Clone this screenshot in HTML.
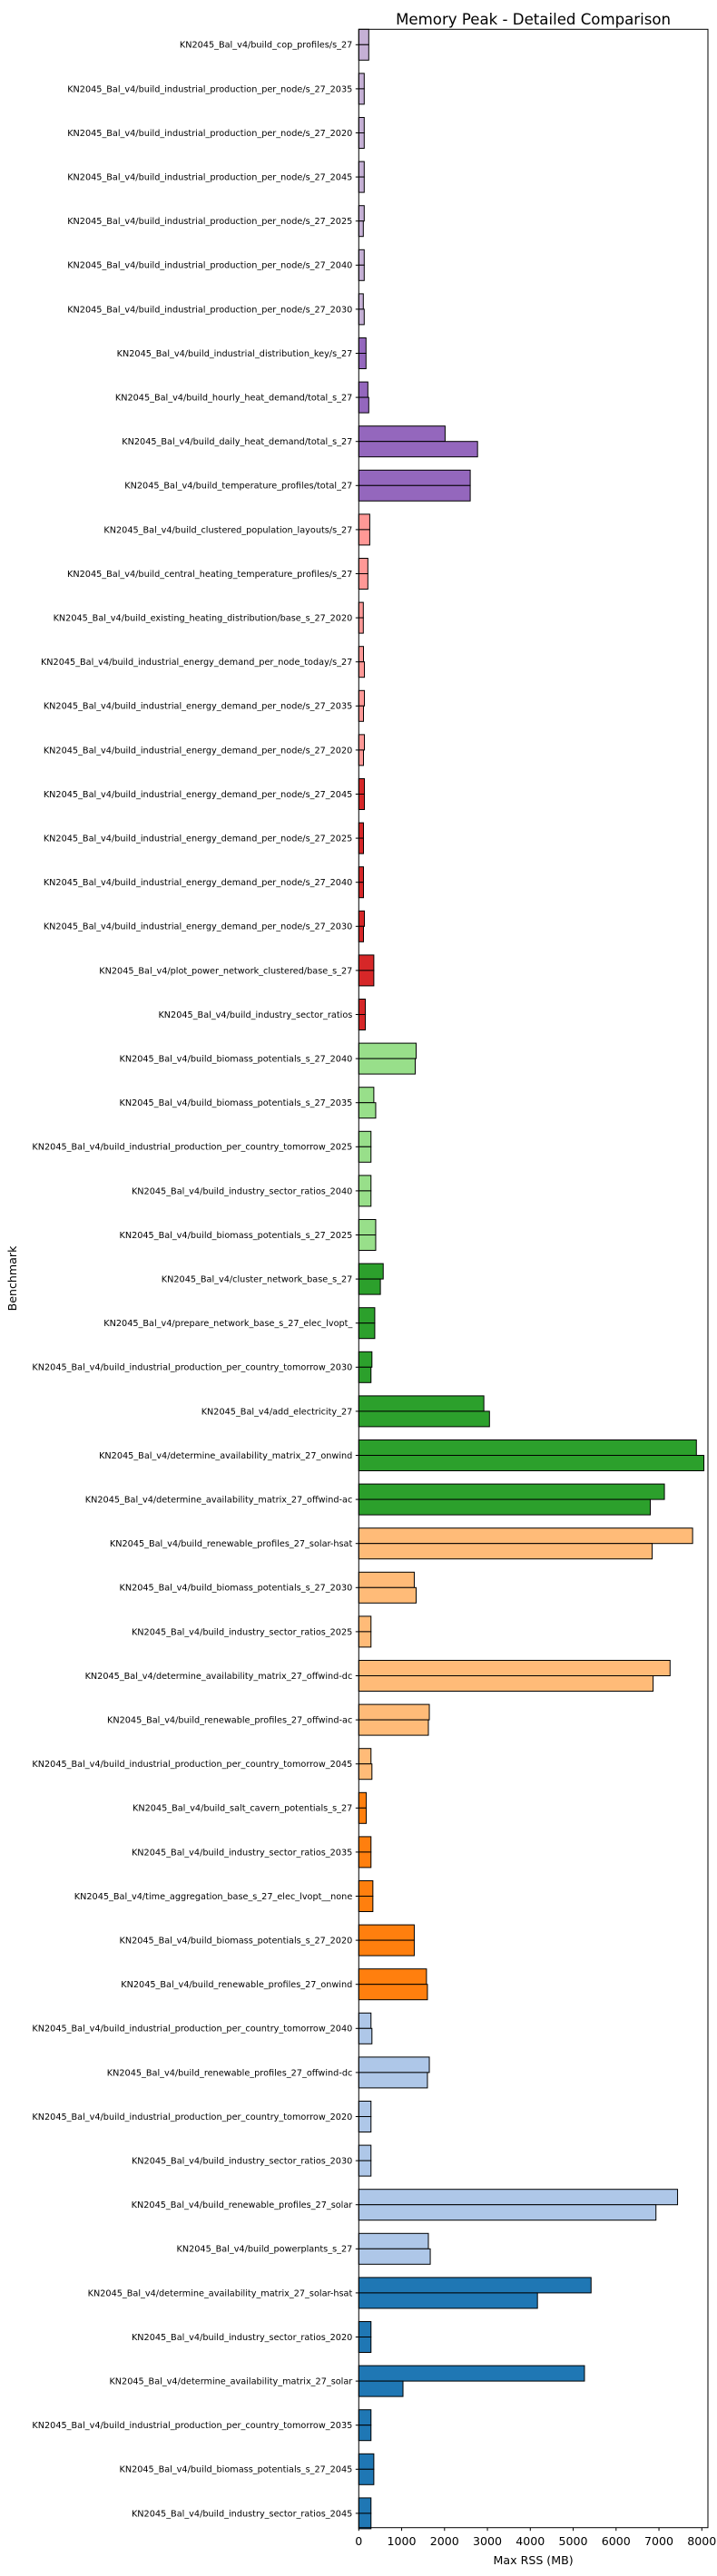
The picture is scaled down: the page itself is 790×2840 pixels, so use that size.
<!DOCTYPE html>
<html><head><meta charset="utf-8">
<style>
html,body{margin:0;padding:0;background:#fff;}
svg{display:block;font-family:"DejaVu Sans","Liberation Sans",sans-serif;}
</style></head>
<body>
<svg id="chart" width="790" height="2840" viewBox="0 0 790 2840" xmlns="http://www.w3.org/2000/svg">
<rect x="0" y="0" width="790" height="2840" fill="#fff"/>
<text x="587.6" y="27" font-size="16.6" text-anchor="middle" fill="#000">Memory Peak - Detailed Comparison</text>
<g id="bars"></g>
<g id="yticks"></g>
<g id="xticks"></g>
<rect x="395.3" y="32.3" width="384.7" height="2754.4" fill="none" stroke="#000" stroke-width="1"/>
<text x="587.6" y="2827" font-size="12.6" text-anchor="middle" fill="#000">Max RSS (MB)</text>
<text transform="translate(18,1409.5) rotate(-90)" font-size="12.6" text-anchor="middle" fill="#000">Benchmark</text>
</svg>
<script>
const categories = [
"KN2045_Bal_v4/build_cop_profiles/s_27",
"KN2045_Bal_v4/build_industrial_production_per_node/s_27_2035",
"KN2045_Bal_v4/build_industrial_production_per_node/s_27_2020",
"KN2045_Bal_v4/build_industrial_production_per_node/s_27_2045",
"KN2045_Bal_v4/build_industrial_production_per_node/s_27_2025",
"KN2045_Bal_v4/build_industrial_production_per_node/s_27_2040",
"KN2045_Bal_v4/build_industrial_production_per_node/s_27_2030",
"KN2045_Bal_v4/build_industrial_distribution_key/s_27",
"KN2045_Bal_v4/build_hourly_heat_demand/total_s_27",
"KN2045_Bal_v4/build_daily_heat_demand/total_s_27",
"KN2045_Bal_v4/build_temperature_profiles/total_27",
"KN2045_Bal_v4/build_clustered_population_layouts/s_27",
"KN2045_Bal_v4/build_central_heating_temperature_profiles/s_27",
"KN2045_Bal_v4/build_existing_heating_distribution/base_s_27_2020",
"KN2045_Bal_v4/build_industrial_energy_demand_per_node_today/s_27",
"KN2045_Bal_v4/build_industrial_energy_demand_per_node/s_27_2035",
"KN2045_Bal_v4/build_industrial_energy_demand_per_node/s_27_2020",
"KN2045_Bal_v4/build_industrial_energy_demand_per_node/s_27_2045",
"KN2045_Bal_v4/build_industrial_energy_demand_per_node/s_27_2025",
"KN2045_Bal_v4/build_industrial_energy_demand_per_node/s_27_2040",
"KN2045_Bal_v4/build_industrial_energy_demand_per_node/s_27_2030",
"KN2045_Bal_v4/plot_power_network_clustered/base_s_27",
"KN2045_Bal_v4/build_industry_sector_ratios",
"KN2045_Bal_v4/build_biomass_potentials_s_27_2040",
"KN2045_Bal_v4/build_biomass_potentials_s_27_2035",
"KN2045_Bal_v4/build_industrial_production_per_country_tomorrow_2025",
"KN2045_Bal_v4/build_industry_sector_ratios_2040",
"KN2045_Bal_v4/build_biomass_potentials_s_27_2025",
"KN2045_Bal_v4/cluster_network_base_s_27",
"KN2045_Bal_v4/prepare_network_base_s_27_elec_lvopt_",
"KN2045_Bal_v4/build_industrial_production_per_country_tomorrow_2030",
"KN2045_Bal_v4/add_electricity_27",
"KN2045_Bal_v4/determine_availability_matrix_27_onwind",
"KN2045_Bal_v4/determine_availability_matrix_27_offwind-ac",
"KN2045_Bal_v4/build_renewable_profiles_27_solar-hsat",
"KN2045_Bal_v4/build_biomass_potentials_s_27_2030",
"KN2045_Bal_v4/build_industry_sector_ratios_2025",
"KN2045_Bal_v4/determine_availability_matrix_27_offwind-dc",
"KN2045_Bal_v4/build_renewable_profiles_27_offwind-ac",
"KN2045_Bal_v4/build_industrial_production_per_country_tomorrow_2045",
"KN2045_Bal_v4/build_salt_cavern_potentials_s_27",
"KN2045_Bal_v4/build_industry_sector_ratios_2035",
"KN2045_Bal_v4/time_aggregation_base_s_27_elec_lvopt__none",
"KN2045_Bal_v4/build_biomass_potentials_s_27_2020",
"KN2045_Bal_v4/build_renewable_profiles_27_onwind",
"KN2045_Bal_v4/build_industrial_production_per_country_tomorrow_2040",
"KN2045_Bal_v4/build_renewable_profiles_27_offwind-dc",
"KN2045_Bal_v4/build_industrial_production_per_country_tomorrow_2020",
"KN2045_Bal_v4/build_industry_sector_ratios_2030",
"KN2045_Bal_v4/build_renewable_profiles_27_solar",
"KN2045_Bal_v4/build_powerplants_s_27",
"KN2045_Bal_v4/determine_availability_matrix_27_solar-hsat",
"KN2045_Bal_v4/build_industry_sector_ratios_2020",
"KN2045_Bal_v4/determine_availability_matrix_27_solar",
"KN2045_Bal_v4/build_industrial_production_per_country_tomorrow_2035",
"KN2045_Bal_v4/build_biomass_potentials_s_27_2045",
"KN2045_Bal_v4/build_industry_sector_ratios_2045"
];
const upperValues = [233,127,127,127,127,127,106,169,212,2013,2599,256,212,106,110,132,132,132,110,110,132,351,154,1338,351,285,285,395,570,373,307,2917,7873,7127,7785,1294,285,7259,1645,285,175,285,329,1294,1579,285,1645,285,285,7434,1623,5417,285,5263,285,351,285];
const lowerValues = [233,127,127,127,106,127,127,169,233,2770,2599,256,212,106,132,110,110,132,110,110,110,351,154,1316,395,285,285,395,504,373,285,3048,8048,6798,6842,1338,285,6864,1623,307,175,285,329,1294,1601,307,1601,285,285,6930,1667,4167,285,1031,285,351,285];
const groupColors = ["#c5b0d5","#c5b0d5","#c5b0d5","#c5b0d5","#c5b0d5","#c5b0d5","#c5b0d5","#9467bd","#9467bd","#9467bd","#9467bd","#ff9896","#ff9896","#ff9896","#ff9896","#ff9896","#ff9896","#d62728","#d62728","#d62728","#d62728","#d62728","#d62728","#98df8a","#98df8a","#98df8a","#98df8a","#98df8a","#2ca02c","#2ca02c","#2ca02c","#2ca02c","#2ca02c","#2ca02c","#ffbb78","#ffbb78","#ffbb78","#ffbb78","#ffbb78","#ffbb78","#ff7f0e","#ff7f0e","#ff7f0e","#ff7f0e","#ff7f0e","#aec7e8","#aec7e8","#aec7e8","#aec7e8","#aec7e8","#aec7e8","#1f77b4","#1f77b4","#1f77b4","#1f77b4","#1f77b4","#1f77b4"];
const xTickValues = [0,1000,2000,3000,4000,5000,6000,7000,8000];

const NS = "http://www.w3.org/2000/svg";
const X0 = 395.3, XMAX_PX = 780, XMAX = 8142;
function xScale(v){ return X0 + v * (XMAX_PX - X0) / XMAX; }
const Y_FIRST = 49.3, Y_STEP = 48.6, BAR_H = 17;
function yScale(i){ return Y_FIRST + i * Y_STEP; }

const barsG = document.getElementById('bars');
const yG = document.getElementById('yticks');
const xG = document.getElementById('xticks');

categories.forEach((cat, i) => {
  const cy = yScale(i);
  const u = document.createElementNS(NS, 'rect');
  u.setAttribute('x', X0);
  u.setAttribute('y', cy - BAR_H);
  u.setAttribute('width', xScale(upperValues[i]) - X0);
  u.setAttribute('height', BAR_H);
  u.setAttribute('fill', groupColors[i]);
  u.setAttribute('stroke', '#000');
  u.setAttribute('stroke-width', '1');
  
  
  barsG.appendChild(u);
  const l = document.createElementNS(NS, 'rect');
  l.setAttribute('x', X0);
  l.setAttribute('y', cy);
  l.setAttribute('width', xScale(lowerValues[i]) - X0);
  l.setAttribute('height', BAR_H);
  l.setAttribute('fill', groupColors[i]);
  l.setAttribute('stroke', '#000');
  l.setAttribute('stroke-width', '1');
  
  
  barsG.appendChild(l);
  const tk = document.createElementNS(NS, 'line');
  tk.setAttribute('x1', X0 - 3.5); tk.setAttribute('x2', X0);
  tk.setAttribute('y1', cy); tk.setAttribute('y2', cy);
  tk.setAttribute('stroke', '#000');
  
  
  yG.appendChild(tk);
  const t = document.createElementNS(NS, 'text');
  t.setAttribute('x', X0 - 7);
  t.setAttribute('y', cy + 3.4);
  t.setAttribute('font-size', '9.7');
  t.setAttribute('text-anchor', 'end');
  t.setAttribute('fill', '#000');
  
  
  t.textContent = cat;
  yG.appendChild(t);
});

xTickValues.forEach(v => {
  const x = xScale(v);
  const tk = document.createElementNS(NS, 'line');
  tk.setAttribute('x1', x); tk.setAttribute('x2', x);
  tk.setAttribute('y1', 2786.7); tk.setAttribute('y2', 2790.2);
  tk.setAttribute('stroke', '#000');
  
  
  xG.appendChild(tk);
  const t = document.createElementNS(NS, 'text');
  t.setAttribute('x', x);
  t.setAttribute('y', 2806);
  t.setAttribute('font-size', '12.6');
  t.setAttribute('text-anchor', 'middle');
  t.setAttribute('fill', '#000');
  
  
  t.textContent = String(v);
  xG.appendChild(t);
});
</script>
</body></html>
